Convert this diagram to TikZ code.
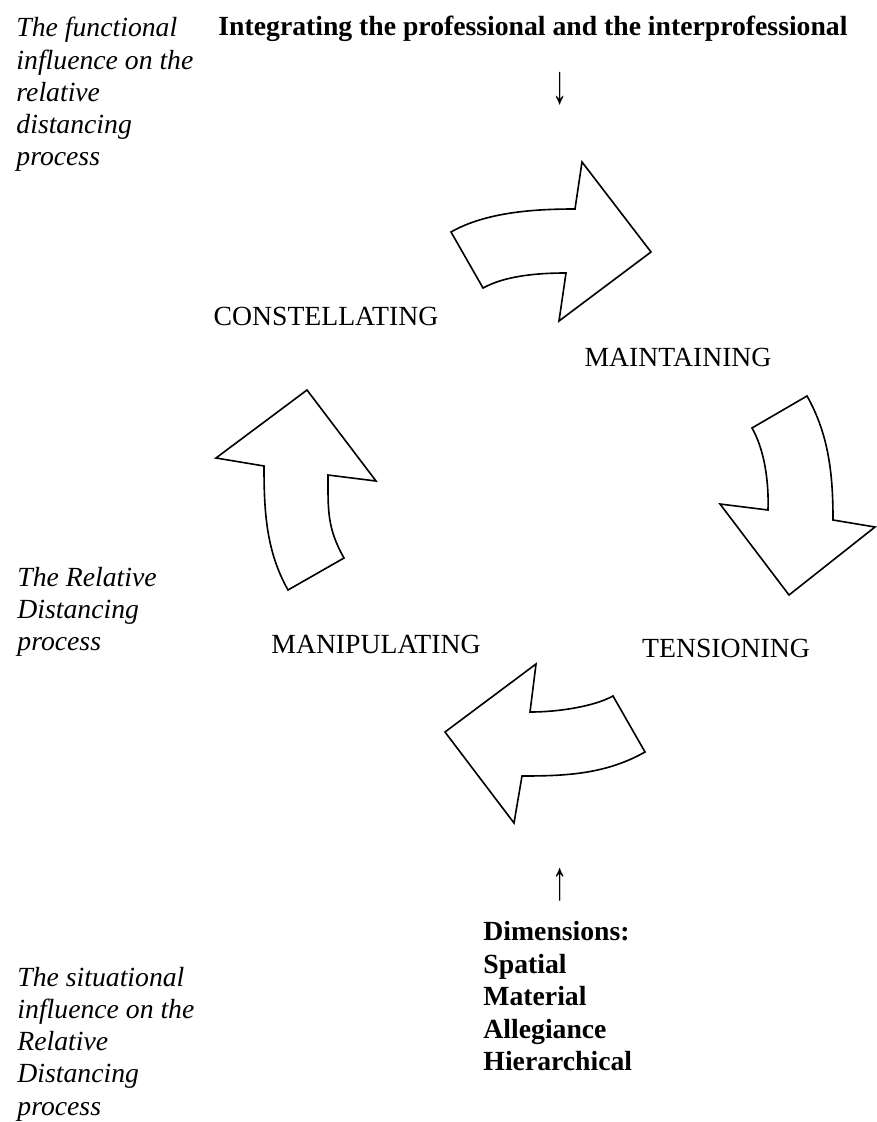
\documentclass[tikz,border=0pt]{standalone}
\usepackage{fontspec}
\usepackage{graphicx}
\setmainfont{Liberation Serif}
\begin{document}
\begin{tikzpicture}[x=0.4333pt, y=-0.4333pt,
	side/.style={anchor=north west, inner sep=0pt, align=left, font=\fontsize{12}{13.9}\selectfont\itshape},
	head/.style={anchor=north west, inner sep=0pt, align=left, font=\fontsize{12}{14.1}\selectfont\bfseries},
	stage/.style={inner sep=0pt, font=\fontsize{12}{13.9}\selectfont},
	bigarrow/.style={draw, line width=0.7pt, line join=miter}]
	\useasboundingbox (0,0) rectangle (876,1122);

	\node[side]		(fun)	at (16, 17)		{The functional\\influence on the\\relative\\distancing\\process};
	\node[head]		(int)	at (218, 16)	{Integrating the professional and the interprofessional};
	\node[stage]	(dn)	at (560, 89)	{\scalebox{1.1}[2]{↓}};

	\node[stage]	(con)	at (326, 316)	{CONSTELLATING};
	\node[stage]	(mai)	at (678, 357)	{MAINTAINING};
	\node[stage]	(man)	at (376, 644)	{MANIPULATING};
	\node[stage]	(ten)	at (726, 648)	{TENSIONING};

	% the four bent arrows of the cycle
	\draw[bigarrow] (451,232) .. controls (486,212) and (535,209) .. (575,209) -- (582,162) -- (651,252) -- (559,321) -- (566,273) .. controls (536,273) and (505,276) .. (483,288) -- cycle;
	\draw[bigarrow] (807,396) .. controls (829,435) and (833,475) .. (833,520) -- (875,527) -- (789,595) -- (720,504) -- (768,510) .. controls (769,480) and (764,449) .. (752,428) -- cycle;
	\draw[bigarrow] (613,696) .. controls (595,706) and (560,712) .. (530,712) -- (536,664) -- (445,732) -- (514,823) -- (522,776) .. controls (567,776) and (606,774) .. (645,752) -- cycle;
	\draw[bigarrow] (344,558) .. controls (327,528) and (328,510) .. (328,475) -- (376,481) -- (307,390) -- (216,458) -- (264,466) .. controls (264,511) and (266,551) .. (288,590) -- cycle;

	\node[side]		(rel)	at (17, 567)	{The Relative\\Distancing\\process};

	\node[stage]	(up)	at (560, 885)	{\scalebox{1.1}[2]{↑}};
	\node[head]		(dim)	at (483, 921)	{Dimensions:\\Spatial\\Material\\Allegiance\\Hierarchical};
	\node[side]		(sit)	at (17, 967)	{The situational\\influence on the\\Relative\\Distancing\\process};
\end{tikzpicture}
\end{document}
